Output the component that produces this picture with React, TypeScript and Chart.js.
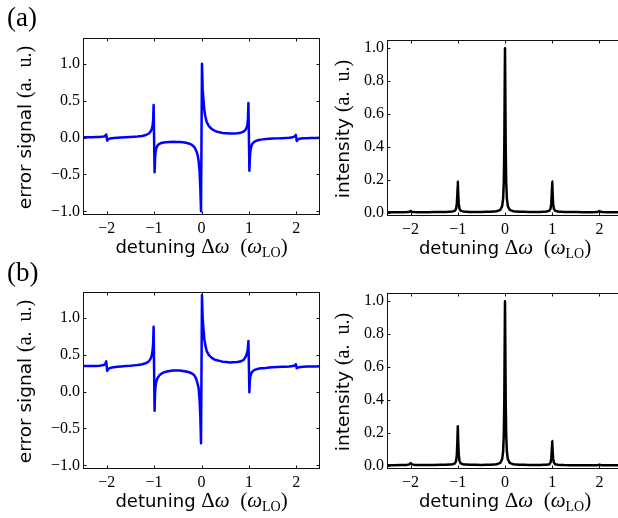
import React, { useEffect, useRef } from "react";
import { Chart, registerables } from "chart.js";
Chart.register(...registerables);

// ---------------- data ----------------
const errDetuning = [
  -2.5, -2.3, -2.15, -2.06, -2.03, -2.01, -1.99, -1.97, -1.93, -1.85, -1.7, -1.5, -1.35, -1.25, -1.17, -1.11,
  -1.07, -1.045, -1.03, -1.02, -1.01, -0.99, -0.98, -0.97, -0.955, -0.93, -0.89, -0.83, -0.75, -0.6, -0.45,
  -0.35, -0.27, -0.2, -0.15, -0.11, -0.08, -0.06, -0.04, -0.025, -0.01, 0.01, 0.025, 0.04, 0.06, 0.08, 0.11,
  0.15, 0.2, 0.27, 0.35, 0.45, 0.6, 0.75, 0.83, 0.89, 0.93, 0.955, 0.97, 0.98, 0.99, 1.01, 1.02, 1.03, 1.045,
  1.07, 1.11, 1.17, 1.25, 1.35, 1.5, 1.7, 1.85, 1.93, 1.97, 1.99, 2.01, 2.03, 2.06, 2.15, 2.3, 2.5,
];

const errorA = [
  0.003, 0.004, 0.008, 0.013, 0.025, 0.042, -0.042, -0.024, -0.012, -0.005, 0.0, 0.007, 0.014, 0.022, 0.035, 0.055,
  0.085, 0.125, 0.17, 0.24, 0.44, -0.47, -0.3, -0.2, -0.15, -0.11, -0.085, -0.07, -0.062, -0.058, -0.06,
  -0.068, -0.08, -0.1, -0.13, -0.18, -0.24, -0.32, -0.46, -0.68, -1.0, 1.0, 0.65, 0.52, 0.37, 0.29, 0.21,
  0.16, 0.125, 0.095, 0.075, 0.063, 0.055, 0.058, 0.066, 0.082, 0.105, 0.14, 0.18, 0.26, 0.47, -0.45, -0.28, -0.19, -0.13,
  -0.085, -0.058, -0.04, -0.028, -0.021, -0.014, -0.008, -0.004, 0.004, 0.018, 0.036, -0.046, -0.028, -0.017, -0.01, -0.006, -0.003,
];

const errorB = [
  0.345, 0.345, 0.35, 0.36, 0.375, 0.41, 0.28, 0.305, 0.32, 0.33, 0.34, 0.35, 0.36, 0.37, 0.385, 0.41,
  0.45, 0.5, 0.57, 0.66, 0.88, -0.26, -0.02, 0.07, 0.13, 0.18, 0.22, 0.25, 0.27, 0.285, 0.285,
  0.275, 0.265, 0.245, 0.22, 0.17, 0.1, 0.04, -0.12, -0.33, -0.7, 1.31, 0.99, 0.86, 0.71, 0.63, 0.55,
  0.5, 0.465, 0.435, 0.42, 0.405, 0.395, 0.4, 0.41, 0.43, 0.47, 0.51, 0.55, 0.6, 0.685, -0.01, 0.15, 0.2, 0.24,
  0.27, 0.29, 0.305, 0.315, 0.32, 0.33, 0.335, 0.34, 0.345, 0.355, 0.37, 0.315, 0.325, 0.33, 0.338, 0.34, 0.342,
];

const intDetuning = [
  -2.5, -2.2, -2.08, -2.03, -2.012, -2.0, -1.988, -1.97, -1.92, -1.8, -1.5, -1.25, -1.12, -1.06, -1.035, -1.02,
  -1.01, -1.0, -0.99, -0.98, -0.965, -0.94, -0.88, -0.75, -0.5, -0.3, -0.18, -0.1, -0.06, -0.04, -0.025, -0.015,
  -0.008, 0, 0.008, 0.015, 0.025, 0.04, 0.06, 0.1, 0.18, 0.3, 0.5, 0.75, 0.88, 0.94, 0.965, 0.98, 0.99, 1.0,
  1.01, 1.02, 1.035, 1.06, 1.12, 1.25, 1.5, 1.8, 1.92, 1.97, 1.988, 2.0, 2.012, 2.03, 2.08, 2.2, 2.5,
];

const intensityA = [
  0.003, 0.003, 0.004, 0.005, 0.007, 0.01, 0.007, 0.005, 0.004, 0.003, 0.004, 0.005, 0.007, 0.012, 0.025, 0.055,
  0.11, 0.19, 0.11, 0.055, 0.025, 0.012, 0.007, 0.005, 0.005, 0.006, 0.009, 0.017, 0.04, 0.085, 0.19, 0.39,
  0.69, 1.0, 0.69, 0.39, 0.19, 0.085, 0.04, 0.017, 0.009, 0.006, 0.005, 0.005, 0.007, 0.012, 0.025, 0.055, 0.11, 0.19,
  0.11, 0.055, 0.025, 0.012, 0.007, 0.005, 0.004, 0.003, 0.004, 0.005, 0.007, 0.01, 0.007, 0.005, 0.004, 0.003, 0.003,
];

const intensityB = [
  0.003, 0.004, 0.005, 0.008, 0.012, 0.016, 0.012, 0.008, 0.005, 0.004, 0.005, 0.006, 0.008, 0.014, 0.03, 0.068,
  0.14, 0.24, 0.14, 0.068, 0.03, 0.014, 0.008, 0.006, 0.005, 0.006, 0.009, 0.017, 0.04, 0.085, 0.19, 0.39,
  0.69, 1.0, 0.69, 0.39, 0.19, 0.085, 0.04, 0.017, 0.009, 0.006, 0.005, 0.005, 0.006, 0.009, 0.02, 0.043, 0.088, 0.15,
  0.088, 0.043, 0.02, 0.009, 0.006, 0.004, 0.003, 0.003, 0.003, 0.004, 0.005, 0.006, 0.005, 0.004, 0.003, 0.003, 0.003,
];

const detuningTicks = [-2, -1, 0, 1, 2];
const errorTicks = [-1.0, -0.5, 0.0, 0.5, 1.0];
const intensityTicks = [0.0, 0.2, 0.4, 0.6, 0.8, 1.0];

// ---------------- styling ----------------
const SANS = '"DejaVu Sans"';
const SERIF = '"Liberation Serif"';

type Seg = { text: string; font: string; dy?: number };

const xTitle: Seg[] = [
  { text: "detuning ", font: `18px ${SANS}` },
  { text: "\u0394", font: `21px ${SERIF}` },
  { text: "\u03c9", font: `italic 21px ${SERIF}` },
  { text: "\u2002(", font: `21px ${SERIF}` },
  { text: "\u03c9", font: `italic 21px ${SERIF}` },
  { text: "LO", font: `14px ${SERIF}`, dy: 4 },
  { text: ")", font: `21px ${SERIF}` },
];
const errTitle: Seg[] = [
  { text: "error signal ", font: `18.5px ${SANS}` },
  { text: "(a.\u2002u.)", font: `20px ${SERIF}` },
];
const intTitle: Seg[] = [
  { text: "intensity ", font: `18.5px ${SANS}` },
  { text: "(a.\u2002u.)", font: `20px ${SERIF}` },
];

function drawSegs(ctx: CanvasRenderingContext2D, segs: Seg[], cx: number, baseY: number) {
  let total = 0;
  const widths = segs.map((s) => {
    ctx.font = s.font;
    const w = ctx.measureText(s.text).width;
    total += w;
    return w;
  });
  let x = cx - total / 2;
  ctx.textBaseline = "alphabetic";
  ctx.textAlign = "left";
  ctx.fillStyle = "#000";
  segs.forEach((s, i) => {
    ctx.font = s.font;
    ctx.fillText(s.text, x, baseY + (s.dy || 0));
    x += widths[i];
  });
}

const decorPlugin = {
  id: "decor",
  afterDraw(chart: any, _args: any, opts: any) {
    const ctx: CanvasRenderingContext2D = chart.ctx;
    const a = chart.chartArea;
    const xs = chart.scales.x;
    const ys = chart.scales.y;
    ctx.save();
    ctx.strokeStyle = "#111";
    ctx.lineWidth = 1;
    const L = Math.round(a.left) + 0.5;
    const R = Math.round(a.right) - 0.5;
    const T = Math.round(a.top) + 0.5;
    const B = Math.round(a.bottom) - 0.5;
    ctx.strokeRect(L, T, R - L, B - T);
    const tl = 3;
    ctx.beginPath();
    for (const t of xs.ticks) {
      const px = Math.round(xs.getPixelForValue(t.value)) + 0.5;
      ctx.moveTo(px, B);
      ctx.lineTo(px, B - tl);
      ctx.moveTo(px, T);
      ctx.lineTo(px, T + tl);
    }
    for (const t of ys.ticks) {
      const py = Math.round(ys.getPixelForValue(t.value)) + 0.5;
      ctx.moveTo(L, py);
      ctx.lineTo(L + tl, py);
      ctx.moveTo(R, py);
      ctx.lineTo(R - tl, py);
    }
    ctx.stroke();

    drawSegs(ctx, opts.xTitle, (a.left + a.right) / 2, a.bottom + opts.xTitleOffset);
    ctx.save();
    ctx.translate(a.left - opts.yTitleOffset, (a.top + a.bottom) / 2 + 1);
    ctx.rotate(-Math.PI / 2);
    drawSegs(ctx, opts.yTitle, 0, 0);
    ctx.restore();

    if (opts.panelLabel) {
      ctx.font = `27px ${SERIF}`;
      ctx.textAlign = "left";
      ctx.textBaseline = "alphabetic";
      ctx.fillStyle = "#000";
      ctx.fillText(opts.panelLabel, opts.panelX, opts.panelY);
    }
    ctx.restore();
  },
};

function fmt(v: number) {
  const s = Math.abs(v).toFixed(1);
  return v < -1e-9 ? "\u2212" + s : s;
}

type Spec = {
  cx: number; cy: number; cw: number; ch: number;
  L: number; T: number; R: number; B: number;
  xs: number[]; ys: number[]; color: string;
  yMin: number; yMax: number; yTicks: number[];
  yTitle: Seg[]; yTitleOffset: number;
  panelLabel?: string; panelX?: number; panelY?: number;
};

function Panel({ spec }: { spec: Spec }) {
  const ref = useRef<HTMLCanvasElement>(null);
  useEffect(() => {
    const points = spec.xs.map((x, i) => ({ x, y: spec.ys[i] }));
    const tickFont = { family: "Liberation Serif", size: 16 };
    const chart = new Chart(ref.current as HTMLCanvasElement, {
      type: "line",
      data: {
        datasets: [
          {
            data: points,
            borderColor: spec.color,
            borderWidth: 2.5,
            borderJoinStyle: "round",
            borderCapStyle: "round",
            pointRadius: 0,
            fill: false,
            // tiny tension turns off Chart.js's per-pixel "fast path", which
            // otherwise leaves stubs on near-vertical peaks
            tension: 0.0001,
          },
        ],
      },
      options: {
        responsive: false,
        animation: false,
        devicePixelRatio: 1,
        events: [],
        layout: {
          padding: { left: 0, top: spec.T - spec.cy, right: spec.cx + spec.cw - spec.R, bottom: 0 },
        },
        plugins: {
          legend: { display: false },
          tooltip: { enabled: false },
          decor: {
            xTitle,
            xTitleOffset: 38,
            yTitle: spec.yTitle,
            yTitleOffset: spec.yTitleOffset,
            panelLabel: spec.panelLabel,
            panelX: spec.panelX,
            panelY: spec.panelY,
          },
        } as any,
        scales: {
          x: {
            type: "linear",
            min: -2.5,
            max: 2.5,
            afterBuildTicks: (s: any) => {
              s.ticks = detuningTicks.map((v) => ({ value: v }));
            },
            afterFit: (s: any) => {
              s.height = spec.cy + spec.ch - spec.B;
            },
            grid: { display: false, drawTicks: false },
            border: { display: false },
            ticks: { font: tickFont, color: "#000", padding: 4, maxRotation: 0, autoSkip: false, callback: (v: any) => fmt(Number(v)).replace(".0", "") },
          },
          y: {
            type: "linear",
            min: spec.yMin,
            max: spec.yMax,
            afterBuildTicks: (s: any) => {
              s.ticks = spec.yTicks.map((v) => ({ value: v }));
            },
            afterFit: (s: any) => {
              s.width = spec.L - spec.cx;
            },
            grid: { display: false, drawTicks: false },
            border: { display: false },
            ticks: { font: tickFont, color: "#000", padding: 3, autoSkip: false, callback: (v: any) => fmt(Number(v)) },
          },
        },
      } as any,
      plugins: [decorPlugin as any],
    });
    return () => chart.destroy();
  }, []);
  return (
    <canvas
      ref={ref}
      width={spec.cw}
      height={spec.ch}
      style={{ position: "absolute", left: spec.cx, top: spec.cy, width: spec.cw, height: spec.ch }}
    />
  );
}

const specs: Spec[] = [
  {
    cx: 0, cy: 0, cw: 330, ch: 258, L: 83, T: 38, R: 320, B: 215,
    xs: errDetuning, ys: errorA, color: "#0000ff", yMin: -1.05, yMax: 1.35, yTicks: errorTicks,
    yTitle: errTitle, yTitleOffset: 52, panelLabel: "(a)", panelX: 7, panelY: 26,
  },
  {
    cx: 330, cy: 0, cw: 300, ch: 258, L: 387, T: 40, R: 623, B: 216,
    xs: intDetuning, ys: intensityA, color: "#000000", yMin: -0.02, yMax: 1.05, yTicks: intensityTicks,
    yTitle: intTitle, yTitleOffset: 38,
  },
  {
    cx: 0, cy: 258, cw: 330, ch: 260, L: 83, T: 292, R: 320, B: 469,
    xs: errDetuning, ys: errorB, color: "#0000ff", yMin: -1.05, yMax: 1.35, yTicks: errorTicks,
    yTitle: errTitle, yTitleOffset: 52, panelLabel: "(b)", panelX: 7, panelY: 23,
  },
  {
    cx: 330, cy: 258, cw: 300, ch: 260, L: 387, T: 293, R: 623, B: 469,
    xs: intDetuning, ys: intensityB, color: "#000000", yMin: -0.02, yMax: 1.05, yTicks: intensityTicks,
    yTitle: intTitle, yTitleOffset: 38,
  },
];

export default function App() {
  return (
    <div
      style={{
        position: "fixed",
        left: 0,
        top: 0,
        width: 618,
        height: 518,
        overflow: "hidden",
        background: "#fff",
      }}
    >
      {specs.map((s, i) => (
        <Panel key={i} spec={s} />
      ))}
    </div>
  );
}
